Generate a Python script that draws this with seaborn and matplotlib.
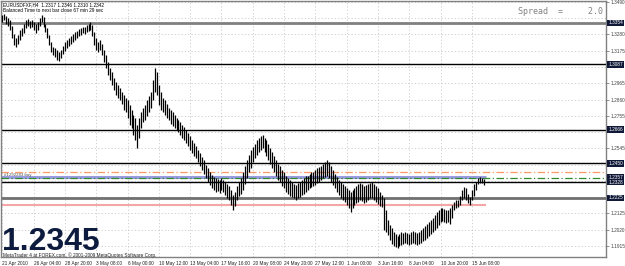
import numpy as np
import pandas as pd
import matplotlib
matplotlib.use("Agg")
import matplotlib.pyplot as plt
import seaborn as sns
from matplotlib.transforms import blended_transform_factory

sns.set_theme(style="white")
plt.rcParams["font.family"] = ["Liberation Sans", "DejaVu Sans"]

# ---- data: EURUSD H4 bars (high / low) ----
highs = [
    1.3405, 1.3412, 1.3399, 1.3386, 1.3373, 1.3334, 1.3283, 1.3257, 1.3276, 1.3309,
    1.3321, 1.3347, 1.3373, 1.3379, 1.3367, 1.3373, 1.3360, 1.3347, 1.3360, 1.3386,
    1.3405, 1.3392, 1.3347, 1.3321, 1.3276, 1.3231, 1.3199, 1.3192, 1.3180, 1.3167,
    1.3180, 1.3205, 1.3231, 1.3244, 1.3257, 1.3270, 1.3283, 1.3296, 1.3302, 1.3315,
    1.3321, 1.3328, 1.3328, 1.3341, 1.3347, 1.3360, 1.3341, 1.3296, 1.3257, 1.3231,
    1.3244, 1.3218, 1.3180, 1.3147, 1.3102, 1.3063, 1.3038, 1.2999, 1.2973, 1.2954,
    1.2934, 1.2909, 1.2889, 1.2870, 1.2857, 1.2825, 1.2793, 1.2760, 1.2741, 1.2696,
    1.2741, 1.2780, 1.2805, 1.2825, 1.2857, 1.2883, 1.2909, 1.2986, 1.3063, 1.3038,
    1.2954, 1.2909, 1.2870, 1.2857, 1.2831, 1.2805, 1.2793, 1.2780, 1.2760, 1.2741,
    1.2728, 1.2715, 1.2696, 1.2683, 1.2664, 1.2644, 1.2625, 1.2599, 1.2580, 1.2560,
    1.2535, 1.2515, 1.2489, 1.2470, 1.2438, 1.2418, 1.2393, 1.2373, 1.2360, 1.2354,
    1.2347, 1.2341, 1.2354, 1.2341, 1.2328, 1.2315, 1.2302, 1.2277, 1.2244, 1.2264,
    1.2302, 1.2328, 1.2354, 1.2393, 1.2431, 1.2470, 1.2502, 1.2535, 1.2554, 1.2573,
    1.2599, 1.2612, 1.2625, 1.2631, 1.2612, 1.2599, 1.2573, 1.2547, 1.2522, 1.2496,
    1.2470, 1.2444, 1.2431, 1.2406, 1.2393, 1.2367, 1.2354, 1.2341, 1.2328, 1.2315,
    1.2309, 1.2322, 1.2328, 1.2341, 1.2354, 1.2367, 1.2367, 1.2380, 1.2393, 1.2393,
    1.2406, 1.2418, 1.2425, 1.2431, 1.2444, 1.2457, 1.2470, 1.2457, 1.2431, 1.2406,
    1.2380, 1.2360, 1.2341, 1.2328, 1.2315, 1.2302, 1.2289, 1.2277, 1.2264, 1.2277,
    1.2289, 1.2302, 1.2315, 1.2322, 1.2315, 1.2302, 1.2309, 1.2315, 1.2322, 1.2328,
    1.2315, 1.2302, 1.2289, 1.2264, 1.2244, 1.2225, 1.2148, 1.2083, 1.2051, 1.2031,
    1.2006, 1.1993, 1.1980, 1.1993, 1.2006, 1.1999, 1.2006, 1.1999, 1.1993, 1.2006,
    1.2012, 1.2006, 1.1999, 1.2006, 1.2019, 1.2031, 1.2044, 1.2057, 1.2070, 1.2083,
    1.2096, 1.2115, 1.2135, 1.2148, 1.2160, 1.2160, 1.2154, 1.2148, 1.2148, 1.2160,
    1.2180, 1.2199, 1.2212, 1.2212, 1.2238, 1.2277, 1.2296, 1.2289, 1.2251, 1.2231,
    1.2277, 1.2315, 1.2328, 1.2354, 1.2360, 1.2354, 1.2346,
]
lows = [
    1.3360, 1.3373, 1.3347, 1.3334, 1.3309, 1.3257, 1.3212, 1.3199, 1.3218, 1.3244,
    1.3270, 1.3289, 1.3321, 1.3334, 1.3321, 1.3328, 1.3309, 1.3289, 1.3309, 1.3334,
    1.3360, 1.3328, 1.3296, 1.3257, 1.3212, 1.3167, 1.3147, 1.3134, 1.3115, 1.3109,
    1.3128, 1.3154, 1.3173, 1.3192, 1.3205, 1.3218, 1.3231, 1.3244, 1.3257, 1.3270,
    1.3276, 1.3289, 1.3283, 1.3296, 1.3302, 1.3309, 1.3270, 1.3212, 1.3180, 1.3167,
    1.3180, 1.3147, 1.3102, 1.3063, 1.3018, 1.2986, 1.2954, 1.2922, 1.2889, 1.2870,
    1.2857, 1.2831, 1.2793, 1.2780, 1.2741, 1.2696, 1.2676, 1.2631, 1.2599, 1.2547,
    1.2612, 1.2676, 1.2715, 1.2728, 1.2754, 1.2780, 1.2805, 1.2857, 1.2909, 1.2889,
    1.2825, 1.2793, 1.2780, 1.2760, 1.2741, 1.2728, 1.2702, 1.2689, 1.2676, 1.2664,
    1.2651, 1.2631, 1.2612, 1.2599, 1.2580, 1.2560, 1.2535, 1.2515, 1.2496, 1.2483,
    1.2457, 1.2431, 1.2406, 1.2380, 1.2354, 1.2328, 1.2309, 1.2289, 1.2277, 1.2264,
    1.2270, 1.2257, 1.2277, 1.2264, 1.2244, 1.2225, 1.2212, 1.2180, 1.2148, 1.2173,
    1.2212, 1.2238, 1.2251, 1.2277, 1.2315, 1.2354, 1.2393, 1.2418, 1.2457, 1.2483,
    1.2502, 1.2522, 1.2535, 1.2547, 1.2522, 1.2496, 1.2470, 1.2444, 1.2418, 1.2393,
    1.2367, 1.2341, 1.2328, 1.2302, 1.2289, 1.2264, 1.2251, 1.2238, 1.2231, 1.2225,
    1.2212, 1.2225, 1.2231, 1.2244, 1.2251, 1.2264, 1.2277, 1.2289, 1.2296, 1.2302,
    1.2309, 1.2322, 1.2328, 1.2341, 1.2354, 1.2360, 1.2367, 1.2354, 1.2328, 1.2309,
    1.2289, 1.2264, 1.2244, 1.2225, 1.2212, 1.2199, 1.2180, 1.2160, 1.2135, 1.2160,
    1.2180, 1.2193, 1.2199, 1.2212, 1.2206, 1.2193, 1.2199, 1.2212, 1.2225, 1.2225,
    1.2212, 1.2199, 1.2186, 1.2173, 1.2167, 1.2019, 1.2006, 1.1986, 1.1954, 1.1928,
    1.1915, 1.1909, 1.1902, 1.1915, 1.1922, 1.1928, 1.1935, 1.1928, 1.1922, 1.1928,
    1.1935, 1.1928, 1.1922, 1.1928, 1.1935, 1.1948, 1.1954, 1.1967, 1.1980, 1.1993,
    1.2006, 1.2019, 1.2031, 1.2051, 1.2070, 1.2077, 1.2070, 1.2064, 1.2070, 1.2057,
    1.2096, 1.2148, 1.2160, 1.2167, 1.2180, 1.2212, 1.2225, 1.2212, 1.2193, 1.2180,
    1.2212, 1.2238, 1.2277, 1.2315, 1.2322, 1.2322, 1.2310,
]

time_labels = ["21 Apr 2010", "26 Apr 04:00", "28 Apr 20:00", "3 May 08:00", "6 May 00:00",
               "10 May 12:00", "13 May 04:00", "17 May 16:00", "20 May 08:00", "24 May 20:00",
               "27 May 12:00", "1 Jun 00:00", "3 Jun 16:00", "8 Jun 04:00", "10 Jun 20:00",
               "15 Jun 08:00"]
price_ticks = [1.3490, 1.3385, 1.3280, 1.3175, 1.3070, 1.2965, 1.2860, 1.2755, 1.2650,
               1.2545, 1.2440, 1.2335, 1.2230, 1.2125, 1.2020, 1.1915]

level_prices = [1.3354, 1.3087, 1.2666, 1.2450, 1.2328, 1.2225]
level_colors = ["#808080", "#000000", "#000000", "#000000", "#000000", "#707070"]
level_widths = [2.0, 1.0, 1.0, 1.0, 1.0, 2.0]
box_prices = [1.3354, 1.3087, 1.2666, 1.2450, 1.2357, 1.2328, 1.2225]

order_open = 1.2357      # green dash-dot
order_tp = 1.2393        # orange dash-dot
trend_blue = 1.2362      # blue partial line
trend_pink = 1.2180      # pink partial line

df = pd.DataFrame({"bar": np.arange(len(highs)), "high": highs, "low": lows})

# ---- figure ----
W, H = 625, 266
SMALL = 3.4
fig = plt.figure(figsize=(W / 100, H / 100), dpi=100)
fig.patch.set_facecolor("white")
ax = fig.add_axes([0.5 / W, 9 / H, 605.5 / W, 256 / H])
ax.set_facecolor("white")

ax.set_xlim(-1.0, 308.6)
ax.set_ylim(1.18444, 1.34956)

# grid
xt = [16 * i for i in range(len(time_labels))]
for x in xt:
    ax.axvline(x, color="#c8c8c8", lw=0.6, ls=(0, (1.5, 2.5)), zorder=0)
for y in price_ticks:
    ax.axhline(y, color="#c8c8c8", lw=0.6, ls=(0, (1.5, 2.5)), zorder=0)

# levels
for p, c, w in zip(level_prices, level_colors, level_widths):
    ax.axhline(p, color=c, lw=w, zorder=2)
ax.axhline(order_tp, color="#ff9966", lw=0.9, ls=(0, (6, 2, 1, 2)), zorder=2)
last = df["bar"].iloc[-1] + 1
ax.hlines(trend_blue, -1, last, color="#9a9ae0", lw=2.2, zorder=2)
ax.axhline(order_open, color="#2e8b2e", lw=0.9, ls=(0, (6, 2, 1, 2)), zorder=3)
ax.hlines(trend_pink, -1, last, color="#f4a6a6", lw=1.5, zorder=2)

# bars
ax.vlines(df["bar"], df["low"], df["high"], color="black", lw=0.9, zorder=4)

# axes style
for s in ax.spines.values():
    s.set_color("#808080")
    s.set_linewidth(1)
ax.set_xticks(xt)
ax.set_xticklabels(time_labels, fontsize=SMALL, color="#202020", ha="left")
ax.tick_params(axis="x", length=2, width=0.6, color="#808080", pad=1.2, direction="out")
ax.yaxis.tick_right()
show_ticks = [t for t in price_ticks if min(abs(t - b) for b in box_prices) > 0.004]
ax.set_yticks(show_ticks)
ax.set_yticklabels([f"{t:.4f}" for t in show_ticks], fontsize=SMALL, color="#404040")
ax.tick_params(axis="y", length=2, width=0.6, color="#808080", pad=1.0, direction="out")

tr = blended_transform_factory(ax.transAxes, ax.transData)
for b in box_prices:
    ax.text(1.004, b, f"{b:.4f}", transform=tr, fontsize=SMALL, color="white", va="center",
            ha="left", bbox=dict(boxstyle="square,pad=0.2", fc="#101838", ec="none"),
            clip_on=False, zorder=6)

# texts
fig.text(3 / W, 1 - 5 / H, "EURUSDFXF,H4  1.2317 1.2346 1.2310 1.2342", fontsize=SMALL,
         color="black", va="center", ha="left")
fig.text(3 / W, 1 - 11 / H, "Balanced Time to next bar close 67 min 29 sec", fontsize=SMALL,
         color="black", va="center", ha="left")
fig.text(518 / W, 1 - 11 / H, "Spread  =     2.0", fontsize=6, color="#808080",
         family="DejaVu Sans Mono", va="center", ha="left")
ax.text(0.005, order_open + 0.0005, "#1292283 buy", transform=tr, fontsize=3.2,
        color="#505050", va="bottom", ha="left", zorder=6)
fig.text(2 / W, 1 - 250 / H, "1.2345", fontsize=23, fontweight="bold", color="#0d1b3e",
         family="Liberation Sans", va="baseline", ha="left")
fig.text(3 / W, 1 - 255.5 / H, "MetaTrader 4 at FOREX.com, \u00a9 2001-2009 MetaQuotes Software Corp.",
         fontsize=SMALL, color="#202020", va="center", ha="left")

fig.savefig("out.png", dpi=100, facecolor="white")
